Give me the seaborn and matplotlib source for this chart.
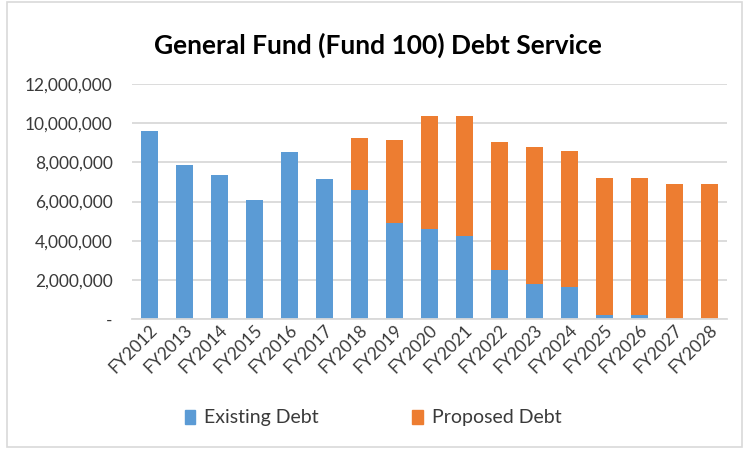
import matplotlib
matplotlib.use("Agg")
import matplotlib.pyplot as plt
import matplotlib.patches as mpatches
import seaborn as sns
import pandas as pd

years = ["FY2012", "FY2013", "FY2014", "FY2015", "FY2016", "FY2017", "FY2018",
         "FY2019", "FY2020", "FY2021", "FY2022", "FY2023", "FY2024", "FY2025",
         "FY2026", "FY2027", "FY2028"]
existing_debt = [9.61e6, 7.88e6, 7.36e6, 6.07e6, 8.53e6, 7.17e6, 6.61e6,
                 4.91e6, 4.60e6, 4.25e6, 2.52e6, 1.80e6, 1.65e6, 0.22e6,
                 0.22e6, 0.0, 0.0]
proposed_debt = [0.0, 0.0, 0.0, 0.0, 0.0, 0.0, 2.62e6,
                 4.23e6, 5.76e6, 6.11e6, 6.52e6, 6.98e6, 6.94e6, 6.98e6,
                 6.98e6, 6.90e6, 6.90e6]
y_ticks = [0, 2e6, 4e6, 6e6, 8e6, 10e6, 12e6]

BLUE = "#5B9BD5"
ORANGE = "#ED7D31"
GRID = "#D9D9D9"
TEXT = "#3A3A3A"

sns.set_theme(style="white")
plt.rcParams["font.family"] = ["Lato", "DejaVu Sans"]

df = pd.DataFrame({"year": years, "existing": existing_debt, "proposed": proposed_debt})
df["total"] = df["existing"] + df["proposed"]

fig = plt.figure(figsize=(7.44, 4.49), dpi=100)
ax = fig.add_axes([132 / 744, 1 - 319 / 449, 595 / 744, 235 / 449])

# stacked bars: total in orange underneath, existing portion in blue on top
sns.barplot(data=df, x="year", y="total", color=ORANGE, width=0.5,
            saturation=1, linewidth=0, ax=ax, zorder=2)
sns.barplot(data=df, x="year", y="existing", color=BLUE, width=0.5,
            saturation=1, linewidth=0, ax=ax, zorder=3)

ax.set_ylim(0, 12e6)
ax.set_xlim(-0.5, len(years) - 0.5)
ax.set_yticks(y_ticks)
ax.set_yticklabels(["-" if v == 0 else f"{int(v):,}" for v in y_ticks],
                   fontsize=12.5, color=TEXT)
ax.yaxis.grid(True, color=GRID, linewidth=1.3, zorder=0)
ax.set_axisbelow(True)
for s in ["top", "right", "left"]:
    ax.spines[s].set_visible(False)
ax.spines["bottom"].set_color(GRID)
ax.spines["bottom"].set_linewidth(1.3)
ax.spines["bottom"].set_zorder(4)
ax.tick_params(axis="y", length=0, pad=14)
ax.tick_params(axis="x", length=0, pad=2)
plt.setp(ax.get_xticklabels(), rotation=45, ha="right", rotation_mode="anchor",
         fontsize=12.5, color=TEXT)
ax.set_xlabel("")
ax.set_ylabel("")

fig.text(378 / 744, 1 - 45 / 449, "General Fund (Fund 100) Debt Service",
         ha="center", va="center", fontsize=19, fontweight="bold", color="#000000")

handles = [mpatches.Patch(color=BLUE, label="Existing Debt"),
           mpatches.Patch(color=ORANGE, label="Proposed Debt")]
fig.legend(handles=handles, loc="center", bbox_to_anchor=(373 / 744, 1 - 418 / 449),
           ncol=2, frameon=False, fontsize=14, handlelength=0.55, handleheight=0.75,
           handletextpad=0.45, columnspacing=4.8, labelcolor=TEXT)

fig.patches.append(mpatches.Rectangle((7 / 744, 2 / 449), 735 / 744, 445 / 449,
                                      transform=fig.transFigure, fill=False,
                                      edgecolor=GRID, linewidth=1.2))

fig.savefig("out.png", dpi=100)
